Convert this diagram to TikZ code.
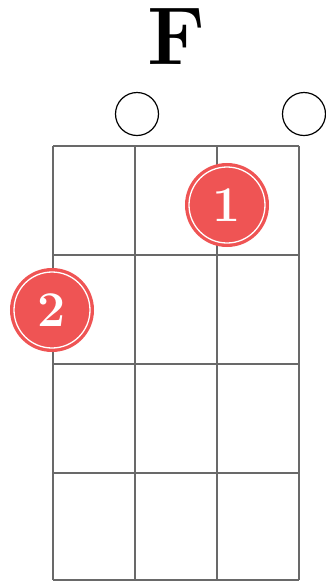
\documentclass[tikz,border=0pt]{standalone}
\usepackage{xcolor}
\usepackage{tikz}
\usetikzlibrary{positioning}

\definecolor{fingerred}{RGB}{239,84,84}
\definecolor{fretgray}{RGB}{105,105,105}

\begin{document}
\begin{tikzpicture}[x=1pt, y=-1pt,
  fretline/.style={
    draw=fretgray, line width=1.7pt
  },
  openstring/.style={
    circle, draw=black, line width=1.2pt, fill=white,
    minimum size=43pt, inner sep=0pt
  },
  finger/.style={
    circle, fill=fingerred, draw=white, line width=1.3pt,
    minimum size=76pt, inner sep=0pt,
    preaction={draw=fingerred, line width=8pt},
    text=white, font=\fontsize{50}{50}\selectfont\bfseries
  }
]
\useasboundingbox (0,0) rectangle (325,582);

% Chord name
\node[font=\fontsize{82}{82}\selectfont\bfseries] (name) at (176,37) {F};

% Frets
\foreach \y in {146,255,364,473,580}
  \draw[fretline] (53,\y) -- (299,\y);

% Strings
\foreach \x in {53,135,217,299}
  \draw[fretline] (\x,146) -- (\x,580);

% Open strings
\node[openstring] (openC) at (137,114) {};
\node[openstring] (openA) at (304,114) {};

% Fingers
\node[finger] (fingerE) at (227,205) {1};
\node[finger] (fingerG) at (52,310) {2};

\end{tikzpicture}
\end{document}
